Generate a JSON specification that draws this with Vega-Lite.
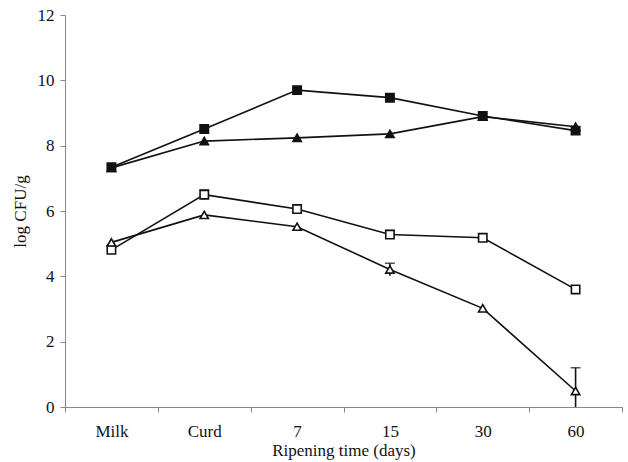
{
  "$schema": "https://vega.github.io/schema/vega-lite/v6.json",
  "width": 557,
  "height": 392,
  "autosize": "none",
  "padding": {"left": 65, "top": 15, "right": 6, "bottom": 55},
  "background": "white",
  "config": {
    "view": {"stroke": null},
    "font": "Liberation Serif",
    "axis": {
      "labelFont": "Liberation Serif",
      "titleFont": "Liberation Serif",
      "labelFontSize": 17,
      "titleFontSize": 17,
      "titleFontWeight": "normal",
      "labelColor": "#111",
      "titleColor": "#111",
      "domainColor": "#888",
      "tickColor": "#888",
      "grid": false,
      "tickSize": 5
    }
  },
  "data": {
    "values": [
      {"time": "Milk", "series": "A", "value": 7.34},
      {"time": "Curd", "series": "A", "value": 8.51},
      {"time": "7", "series": "A", "value": 9.70},
      {"time": "15", "series": "A", "value": 9.47},
      {"time": "30", "series": "A", "value": 8.91},
      {"time": "60", "series": "A", "value": 8.46},
      {"time": "Milk", "series": "B", "value": 7.32},
      {"time": "Curd", "series": "B", "value": 8.14},
      {"time": "7", "series": "B", "value": 8.24},
      {"time": "15", "series": "B", "value": 8.36},
      {"time": "30", "series": "B", "value": 8.89},
      {"time": "60", "series": "B", "value": 8.58},
      {"time": "Milk", "series": "C", "value": 4.81},
      {"time": "Curd", "series": "C", "value": 6.50, "lo": 6.35, "hi": 6.65},
      {"time": "7", "series": "C", "value": 6.06},
      {"time": "15", "series": "C", "value": 5.28, "lo": 5.16, "hi": 5.40},
      {"time": "30", "series": "C", "value": 5.18},
      {"time": "60", "series": "C", "value": 3.60},
      {"time": "Milk", "series": "D", "value": 5.04},
      {"time": "Curd", "series": "D", "value": 5.88},
      {"time": "7", "series": "D", "value": 5.52},
      {"time": "15", "series": "D", "value": 4.21, "lo": 4.02, "hi": 4.40},
      {"time": "30", "series": "D", "value": 3.02},
      {"time": "60", "series": "D", "value": 0.49, "lo": -0.22, "hi": 1.20}
    ]
  },
  "encoding": {
    "x": {
      "field": "time",
      "type": "ordinal",
      "sort": ["Milk", "Curd", "7", "15", "30", "60"],
      "scale": {"type": "band", "paddingInner": 0, "paddingOuter": 0},
      "axis": {"title": "Ripening time (days)", "labelAngle": 0, "tickBand": "extent", "labelPadding": 11, "titlePadding": 3}
    }
  },
  "layer": [
    {
      "mark": {"type": "line", "color": "#111", "strokeWidth": 1.6},
      "encoding": {
        "y": {
          "field": "value",
          "type": "quantitative",
          "scale": {"domain": [0, 12]},
          "axis": {"title": "log CFU/g", "values": [0, 2, 4, 6, 8, 10, 12], "labelPadding": 6, "titlePadding": 8}
        },
        "detail": {"field": "series"}
      }
    },
    {
      "transform": [{"filter": "isValid(datum.hi)"}],
      "mark": {"type": "rule", "color": "#111", "strokeWidth": 1.6, "clip": true},
      "encoding": {
        "y": {"field": "lo", "type": "quantitative"},
        "y2": {"field": "hi"}
      }
    },
    {
      "transform": [{"filter": "isValid(datum.hi)"}],
      "mark": {"type": "tick", "color": "#111", "thickness": 1.6, "size": 10, "orient": "horizontal", "clip": true},
      "encoding": {
        "y": {"field": "hi", "type": "quantitative"}
      }
    },
    {
      "mark": {"type": "point", "stroke": "#111", "strokeWidth": 1.6, "opacity": 1, "size": 70},
      "encoding": {
        "y": {"field": "value", "type": "quantitative"},
        "shape": {
          "field": "series",
          "type": "nominal",
          "scale": {"domain": ["A", "B", "C", "D"], "range": ["square", "triangle-up", "square", "triangle-up"]},
          "legend": null
        },
        "fill": {
          "field": "series",
          "type": "nominal",
          "scale": {"domain": ["A", "B", "C", "D"], "range": ["#111", "#111", "white", "white"]},
          "legend": null
        }
      }
    }
  ]
}
